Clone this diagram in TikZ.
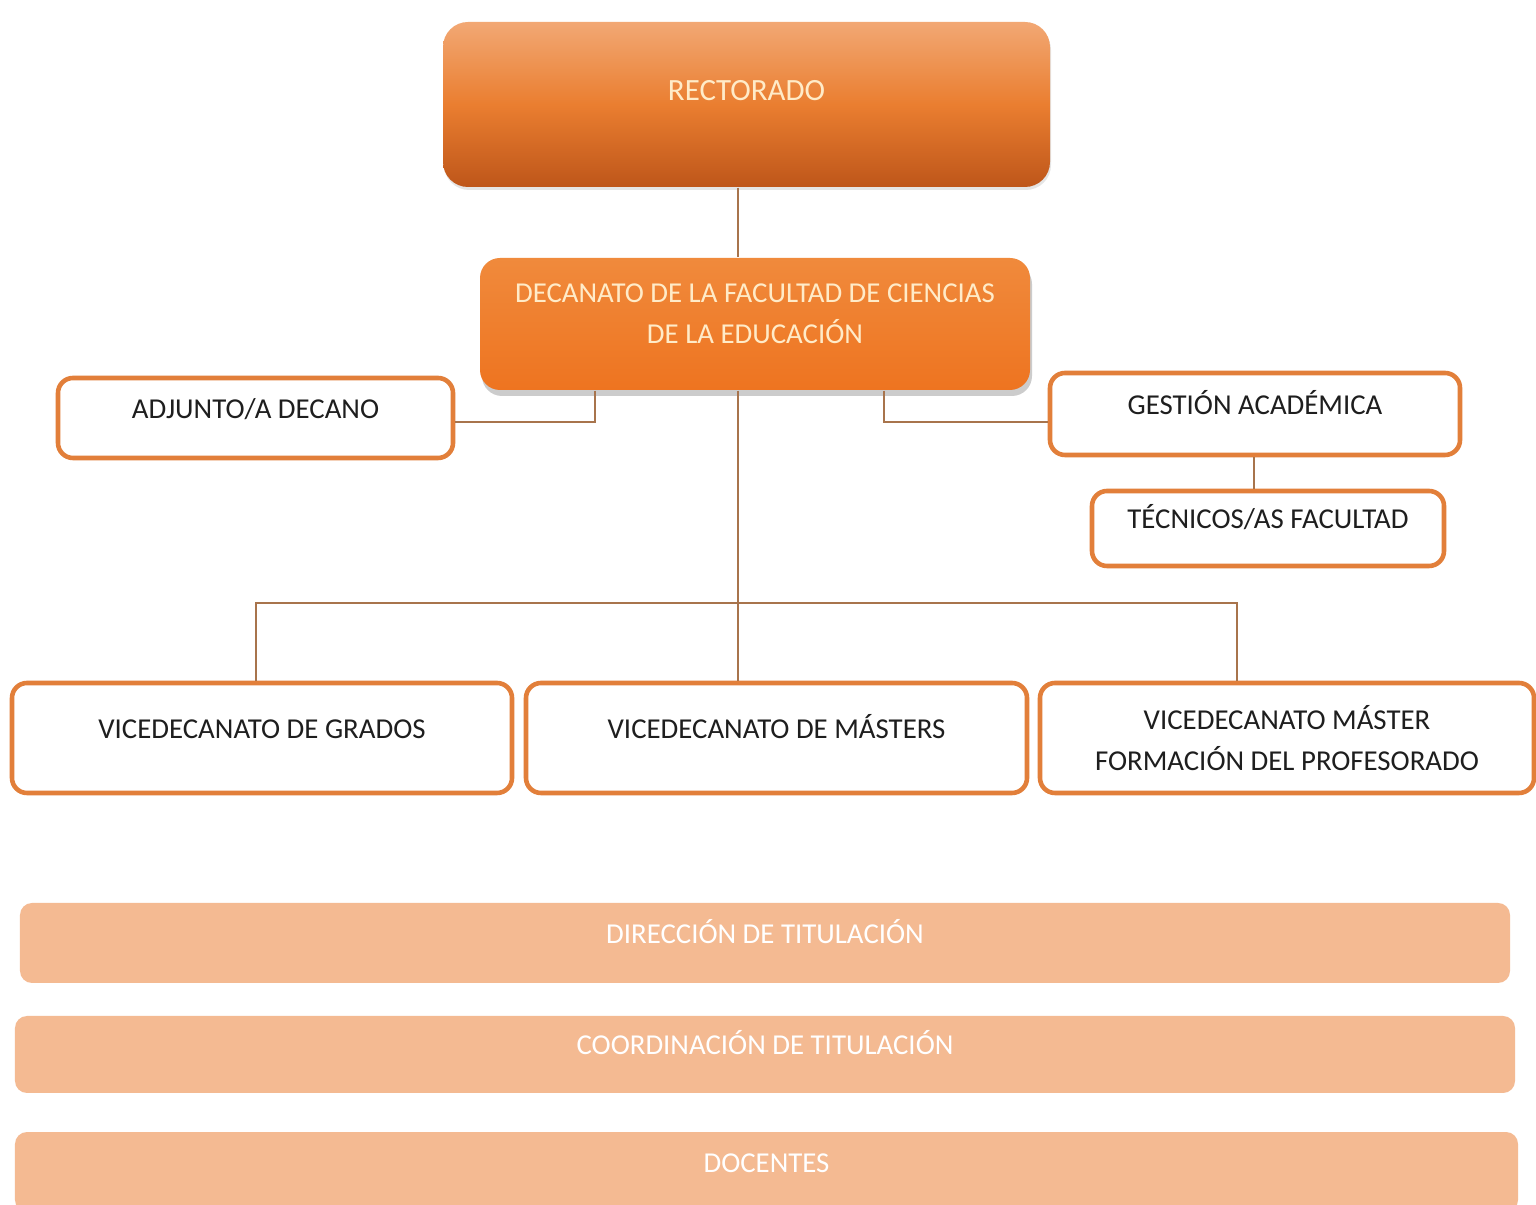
\documentclass[tikz,border=0pt]{standalone}
\usepackage{fontspec}
\setmainfont{Carlito}
\usepackage{xcolor}
\usetikzlibrary{positioning,shadows}

\definecolor{rectoA}{HTML}{F2A874}
\definecolor{rectoB}{HTML}{EA7E30}
\definecolor{rectoC}{HTML}{BE561A}
\definecolor{decA}{HTML}{F08A3C}
\definecolor{decB}{HTML}{EE7420}
\definecolor{crema}{HTML}{FFEBC8}
\definecolor{borde}{HTML}{E27F3A}
\definecolor{conector}{HTML}{A8744C}
\definecolor{melocoton}{HTML}{F4BA92}
\definecolor{negro}{HTML}{1E1E1E}

\begin{document}
\begin{tikzpicture}[
    linea/.style={draw=conector, line width=0.7pt},
    letra/.style={font=\fontsize{8.2}{11.5}\selectfont},
    unalinea/.style={text height=0.25cm, text depth=0.24cm},
    caja/.style={draw=borde, line width=1.3pt, fill=white, rounded corners=0.15cm,
        text=negro, letra},
    barra/.style={fill=melocoton, rounded corners=0.12cm, text=white, letra, unalinea},
]

    % Marco
    \clip (0,-12.05) rectangle (15.36,0);
    \fill[white] (0,-12.05) rectangle (15.36,0);

    % Rectorado
    \node[rounded corners=0.25cm, top color=rectoA, bottom color=rectoC, middle color=rectoB,
        minimum width=6.07cm, minimum height=1.65cm, text=crema,
        font=\fontsize{8.8}{12}\selectfont, text height=0.25cm, text depth=0.33cm,
        drop shadow={shadow xshift=0.01cm, shadow yshift=-0.03cm, opacity=0.2}]
        (rect) at (7.465,-1.045) {RECTORADO};

    % Decanato
    \node[rounded corners=0.2cm, top color=decA, bottom color=decB,
        minimum width=5.5cm, minimum height=1.32cm, text=crema, letra, align=center,
        drop shadow={shadow xshift=0.02cm, shadow yshift=-0.06cm, opacity=0.4}]
        (dec) at (7.55,-3.24) {DECANATO DE LA FACULTAD DE CIENCIAS\\DE LA EDUCACIÓN\\[-0.2cm]};

    % Cajas laterales
    \node[caja, unalinea, minimum width=3.95cm, minimum height=0.8cm] (adj) at (2.555,-4.18) {ADJUNTO/A DECANO};
    \node[caja, unalinea, minimum width=4.1cm, minimum height=0.82cm] (ges) at (12.55,-4.14) {GESTIÓN ACADÉMICA};
    \node[caja, unalinea, minimum width=3.52cm, minimum height=0.75cm] (tec) at (12.68,-5.285) {TÉCNICOS/AS FACULTAD};

    % Vicedecanatos
    \node[caja, unalinea, minimum width=5.0cm, minimum height=1.1cm] (grad) at (2.62,-7.38) {VICEDECANATO DE GRADOS};
    \node[caja, unalinea, minimum width=5.01cm, minimum height=1.1cm] (mas) at (7.765,-7.38) {VICEDECANATO DE MÁSTERS};
    \node[caja, align=center, minimum width=4.94cm, minimum height=1.1cm] (prof) at (12.87,-7.38)
        {VICEDECANATO MÁSTER\\FORMACIÓN DEL PROFESORADO};

    % Barras inferiores
    \node[barra, minimum width=14.9cm, minimum height=0.8cm] (dir) at (7.65,-9.43) {DIRECCIÓN DE TITULACIÓN};
    \node[barra, minimum width=15.0cm, minimum height=0.77cm] (coo) at (7.65,-10.545) {COORDINACIÓN DE TITULACIÓN};
    \node[barra, minimum width=15.03cm, minimum height=0.8cm] (doc) at (7.665,-11.72) {DOCENTES};

    % Conectores
    \coordinate (bus) at (7.38,-6.03);
    \draw[linea] (rect.south -| bus) -- (dec.north -| bus);
    \draw[linea] (dec.south -| bus) -- (mas.north -| bus);
    \draw[linea] (dec.south -| 5.95,0) |- ([yshift=-0.04cm]adj.east);
    \draw[linea] (dec.south -| 8.84,0) |- ([yshift=-0.08cm]ges.west);
    \draw[linea] (ges.south -| 12.54,0) -- (tec.north -| 12.54,0);
    \draw[linea] (grad.north -| 2.56,0) |- (bus) -| (prof.north -| 12.37,0);

\end{tikzpicture}
\end{document}
